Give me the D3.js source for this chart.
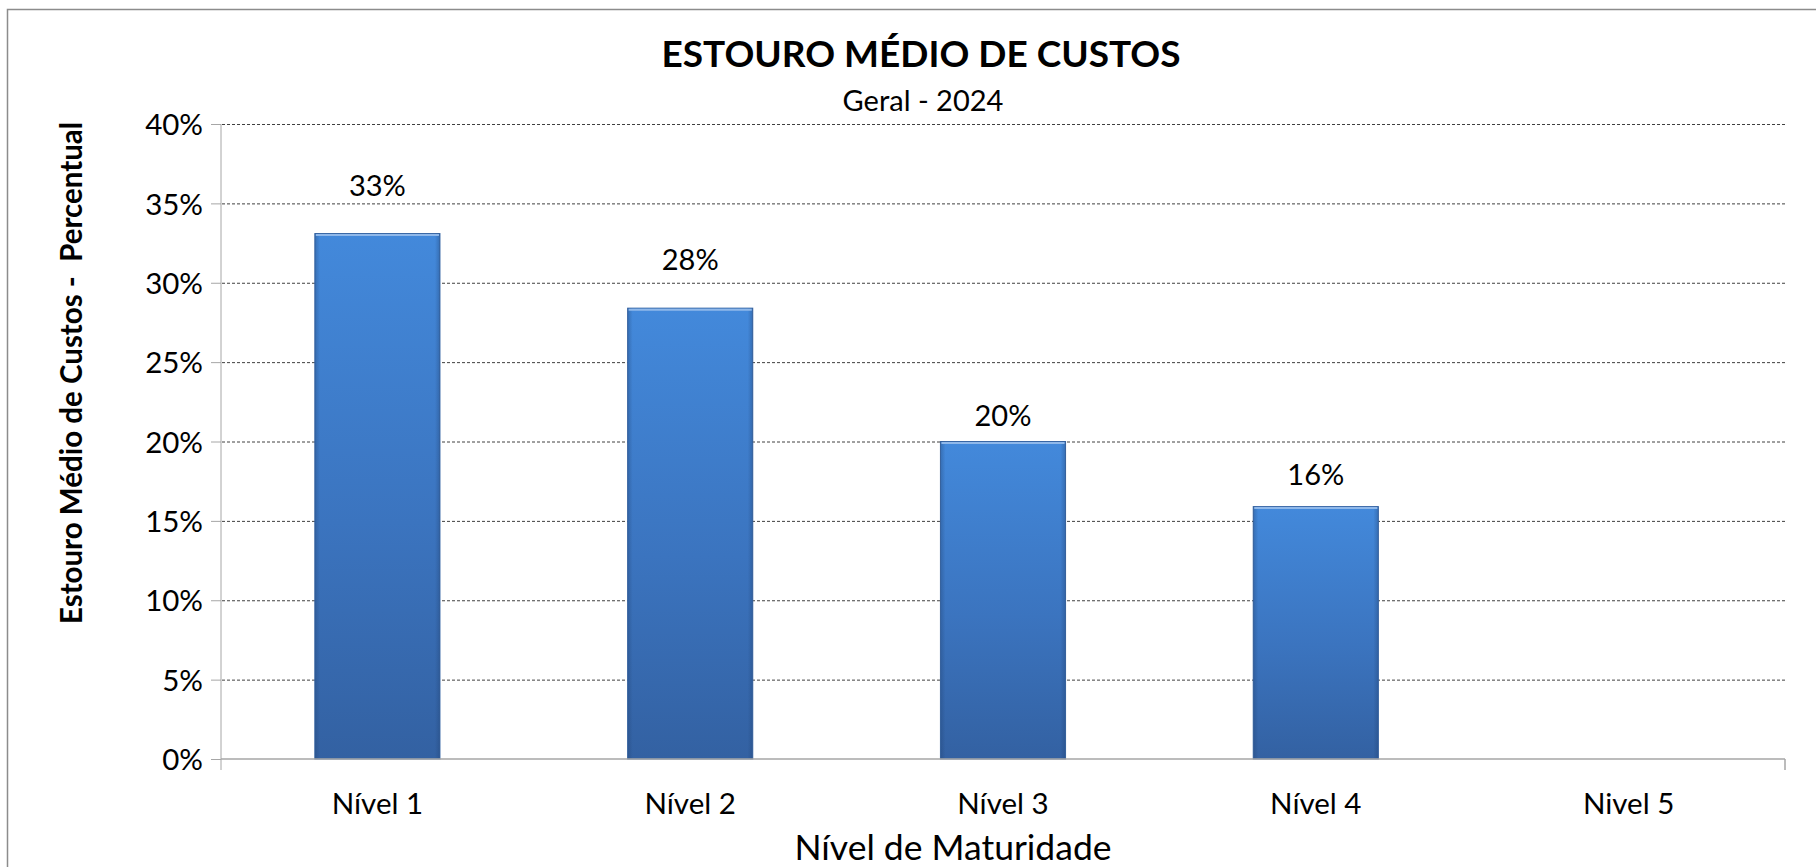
<!DOCTYPE html>
<html>
<head>
<meta charset="utf-8">
<script src="https://cdn.jsdelivr.net/npm/d3@7"></script>
<style>
  body { margin: 0; background: #fff; }
  text { font-family: Lato, "Open Sans", sans-serif; fill: #000; }
</style>
</head>
<body>
<svg id="chart" width="1816" height="867"></svg>
<script>

// chart data
var categories = ["Nível 1", "Nível 2", "Nível 3", "Nível 4", "Nivel 5"]
var values = [33.1, 28.4, 20.0, 15.9, null]
var valueLabels = ["33%", "28%", "20%", "16%", ""]
var yTicks = [0, 5, 10, 15, 20, 25, 30, 35, 40]

var chartTitle = "ESTOURO MÉDIO DE CUSTOS"
var chartSubtitle = "Geral - 2024"
var xTitle = "Nível de Maturidade"
var yTitle = "Estouro Médio de Custos -  Percentual"

var svg = d3.select("#chart")

var plot = {left: 221, right: 1785, top: 124, bottom: 759}

//labels were nudged by hand in the original, so gap above each bar differs
var labelGap = [38, 38, 16, 22, 0]

//outer frame, only left and top show in the picture
svg.append("rect")
    .attr("x", 7.5).attr("y", 9.5)
    .attr("width", 1830).attr("height", 900)
    .attr("fill", "none")
    .attr("stroke", "#8c8c8c")
    .attr("stroke-width", 1.5)

var x = d3.scaleBand()
    .domain(categories)
    .range([plot.left, plot.right])
    .paddingInner(0.6)
    .paddingOuter(0.3)

var y = d3.scaleLinear()
    .domain([0, 40])
    .range([plot.bottom, plot.top])

var defs = svg.append("defs")
var grad = defs.append("linearGradient")
    .attr("id", "barGrad")
    .attr("x1", 0).attr("y1", 0).attr("x2", 0).attr("y2", 1)
grad.append("stop").attr("offset", "0%").attr("stop-color", "#4389db")
grad.append("stop").attr("offset", "55%").attr("stop-color", "#3b74bf")
grad.append("stop").attr("offset", "100%").attr("stop-color", "#3361a2")

//side shading so the bars look a bit bevelled like excel
var side = defs.append("linearGradient")
    .attr("id", "sideGrad")
    .attr("x1", 0).attr("y1", 0).attr("x2", 1).attr("y2", 0)
side.append("stop").attr("offset", "0%").attr("stop-color", "#1f3f6e").attr("stop-opacity", 0.35)
side.append("stop").attr("offset", "4%").attr("stop-color", "#1f3f6e").attr("stop-opacity", 0)
side.append("stop").attr("offset", "96%").attr("stop-color", "#1f3f6e").attr("stop-opacity", 0)
side.append("stop").attr("offset", "100%").attr("stop-color", "#1f3f6e").attr("stop-opacity", 0.35)

// gridlines (dashed) except the zero line
var yAxis = d3.axisLeft(y)
    .tickValues(yTicks)
    .tickSize(plot.right - plot.left)
    .tickFormat("")

svg.append("g")
    .attr("class", "grid")
    .attr("transform", "translate(" + plot.right + ",0)")
    .call(yAxis)
    .call(function(g) {
        g.select(".domain").remove()
        g.selectAll(".tick line")
            .attr("stroke", "#404040")
            .attr("stroke-dasharray", "3,2")
            .attr("stroke-width", 1)
        g.selectAll(".tick").filter(function(d) { return d == 0 }).remove()
    })

// y axis with labels and outside ticks
svg.append("g")
    .attr("transform", "translate(" + plot.left + ",0)")
    .call(d3.axisLeft(y).tickValues(yTicks).tickSize(10).tickPadding(8)
        .tickFormat(function(d) { return d + "%" }))
    .call(function(g) {
        g.select(".domain").attr("stroke", "#a6a6a6").attr("d", "M0," + plot.top + "V" + (plot.bottom + 11))
        g.selectAll(".tick line").attr("stroke", "#a6a6a6")
        g.selectAll("text")
            .style("font-family", "Lato, sans-serif")
            .style("font-size", "29.5px")
            .attr("dy", "0.36em")
            .attr("fill", "#000")
    })

// bars
var bars = svg.append("g").selectAll("g")
    .data(categories.map(function(c, i) { return {cat: c, v: values[i], label: valueLabels[i], gap: labelGap[i]} })
        .filter(function(d) { return d.v != null }))
    .enter().append("g")

bars.append("rect")
    .attr("x", function(d) { return x(d.cat) })
    .attr("y", function(d) { return y(d.v) })
    .attr("width", x.bandwidth())
    .attr("height", function(d) { return y(0) - y(d.v) })
    .attr("fill", "url(#barGrad)")
    .attr("stroke", "#3866a5")
    .attr("stroke-width", 1)

bars.append("rect")
    .attr("x", function(d) { return x(d.cat) })
    .attr("y", function(d) { return y(d.v) })
    .attr("width", x.bandwidth())
    .attr("height", function(d) { return y(0) - y(d.v) })
    .attr("fill", "url(#sideGrad)")

bars.append("line")
    .attr("x1", function(d) { return x(d.cat) + 1 })
    .attr("x2", function(d) { return x(d.cat) + x.bandwidth() - 1 })
    .attr("y1", function(d) { return y(d.v) + 1.5 })
    .attr("y2", function(d) { return y(d.v) + 1.5 })
    .attr("stroke", "#8fb8ea")
    .attr("stroke-width", 2)

bars.append("text")
    .attr("x", function(d) { return x(d.cat) + x.bandwidth() / 2 })
    .attr("y", function(d) { return y(d.v) - d.gap })
    .attr("text-anchor", "middle")
    .style("font-size", "29px")
    .text(function(d) { return d.label })

// x axis line at zero, ticks only at the ends
svg.append("line")
    .attr("x1", plot.left).attr("x2", plot.right)
    .attr("y1", y(0)).attr("y2", y(0))
    .attr("stroke", "#a6a6a6").attr("stroke-width", 1.5)
svg.append("line")
    .attr("x1", plot.right).attr("x2", plot.right)
    .attr("y1", y(0)).attr("y2", y(0) + 11)
    .attr("stroke", "#a6a6a6").attr("stroke-width", 1.5)

svg.append("g").selectAll("text")
    .data(categories)
    .enter().append("text")
    .attr("x", function(d) { return x(d) + x.bandwidth() / 2 })
    .attr("y", 814)
    .attr("text-anchor", "middle")
    .style("font-size", "29.5px")
    .text(function(d) { return d })

// titles
svg.append("text")
    .attr("x", 921).attr("y", 67)
    .attr("text-anchor", "middle")
    .style("font-size", "37px")
    .style("font-weight", "bold")
    .text(chartTitle)

svg.append("text")
    .attr("x", 923).attr("y", 111)
    .attr("text-anchor", "middle")
    .style("font-size", "29px")
    .text(chartSubtitle)

svg.append("text")
    .attr("x", 953).attr("y", 860)
    .attr("text-anchor", "middle")
    .style("font-size", "35.5px")
    .text(xTitle)

svg.append("text")
    .attr("transform", "translate(82,373) rotate(-90)")
    .attr("text-anchor", "middle")
    .style("font-size", "29.5px")
    .style("font-weight", "bold")
    .style("white-space", "pre")
    .text(yTitle)

</script>
</body>
</html>
